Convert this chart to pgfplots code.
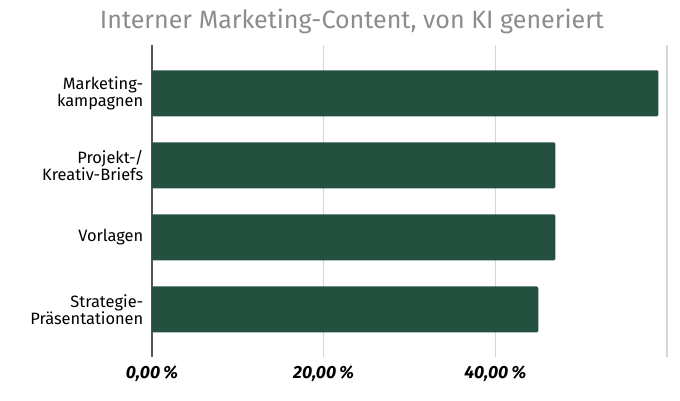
\documentclass[border=0pt]{standalone}
\usepackage{fontspec}
\setmainfont{Fira Sans}
\usepackage{pgfplots}
\pgfplotsset{compat=1.18}
\definecolor{bargreen}{HTML}{23503F}
\definecolor{titlegray}{HTML}{8C8C8C}
\definecolor{gridgray}{HTML}{D6D6D6}
\definecolor{axisgray}{HTML}{555555}
\begin{document}
\begin{tikzpicture}
\useasboundingbox (-114pt,-32.25pt) rectangle (396pt,267.75pt);
\begin{axis}[
  at={(0pt,0pt)}, anchor=south west,
  scale only axis, width=386.25pt, height=234pt,
  xbar, bar width=34.5pt,
  xmin=0, xmax=60, ymin=-0.67, ymax=3.66, y dir=reverse,
  ytick={0,1,2,3},
  yticklabels={{Marketing-\\kampagnen},{Projekt-/\\Kreativ-Briefs},{Vorlagen},{Strategie-\\Präsentationen}},
  yticklabel style={align=right, font=\fontsize{12.3pt}{12.5pt}\selectfont, xshift=-3pt},
  xtick={0,20,40,60},
  xticklabels={{0,00\,\%},{20,00\,\%},{40,00\,\%},{}},
  xticklabel style={font=\fontsize{13.2pt}{14pt}\selectfont\bfseries\itshape, yshift=-3pt},
  xmajorgrids, grid style={gridgray, line width=0.8pt},
  major tick length=0pt,
  axis lines*=left,
  x axis line style={draw=none},
  y axis line style={draw=axisgray, line width=0.8pt},
  clip=false,
]
\addplot[fill=bargreen, draw=none, rounded corners=1pt] coordinates {(59,0) (47,1) (47,2) (45,3)};
\end{axis}
\node[anchor=base, text=titlegray, font=\fontsize{18.8pt}{19pt}\selectfont] at (150pt,246.5pt) {Interner Marketing-Content, von KI generiert};
\end{tikzpicture}
\end{document}
